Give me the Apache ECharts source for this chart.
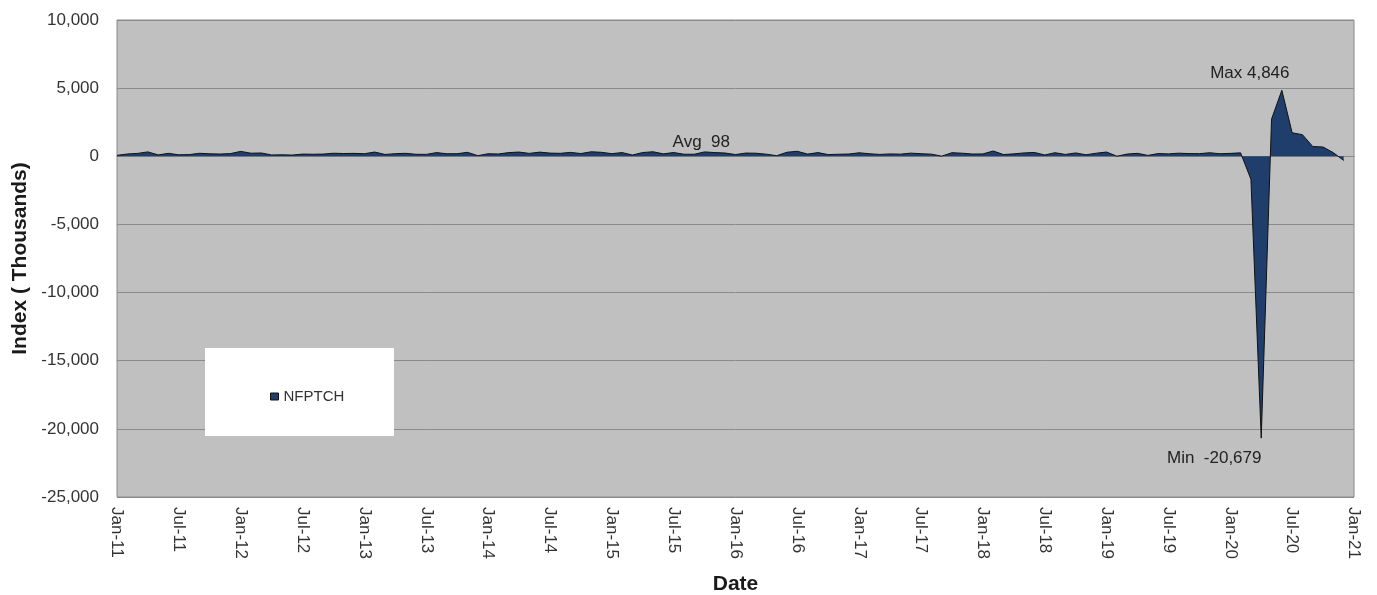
<!DOCTYPE html>
<html>
<head>
<meta charset="utf-8">
<script src="https://cdn.jsdelivr.net/npm/echarts@6/dist/echarts.min.js"></script>
<style>
html,body{margin:0;padding:0;background:#fff;}
#chart{width:1377px;height:595px;}
</style>
</head>
<body>
<div id="chart"></div>
<script>
// Monthly change in nonfarm payrolls (thousands), Jan-2011 .. Dec-2020
const v2011 = [70, 168, 212, 322, 102, 217, 106, 122, 221, 183, 164, 196];
const v2012 = [360, 226, 243, 96, 110, 88, 160, 150, 161, 225, 203, 214];
const v2013 = [190, 311, 135, 192, 218, 146, 140, 269, 185, 189, 291, 45];
const v2014 = [187, 168, 272, 310, 213, 306, 232, 218, 286, 200, 331, 292];
const v2015 = [192, 273, 91, 276, 332, 178, 277, 150, 149, 321, 272, 239];
const v2016 = [126, 237, 225, 153, 43, 297, 365, 159, 271, 124, 150, 165];
const v2017 = [258, 185, 136, 173, 157, 231, 189, 157, 10, 264, 224, 166];
const v2018 = [174, 387, 127, 177, 247, 281, 96, 262, 134, 247, 110, 227];
const v2019 = [312, 6, 162, 216, 64, 199, 175, 229, 197, 194, 260, 184];
const v2020 = [214, 251, -1683, -20679, 2725, 4846, 1726, 1583, 716, 680, 264, -306];
const v2021 = [null];

const monthNames = ['Jan','Feb','Mar','Apr','May','Jun','Jul','Aug','Sep','Oct','Nov','Dec'];
const years = [11,12,13,14,15,16,17,18,19,20,21];
const categories = [];
years.forEach(y => {
  const n = y === 21 ? 1 : 12;
  for (let m = 0; m < n; m++) categories.push(monthNames[m] + '-' + y);
});
const values = [].concat(v2011, v2012, v2013, v2014, v2015, v2016, v2017, v2018, v2019, v2020, v2021);

const seriesName = 'NFPTCH';
const yTicks = {min: -25000, max: 10000, interval: 5000};
const annotations = [
  {label: 'Max 4,846', cat: 'Jun-20', value: 4846, offset: [-32, -17]},
  {label: 'Min  -20,679', cat: 'Apr-20', value: -20679, offset: [-47, 20]},
  {label: 'Avg  98', cat: 'Sep-15', value: 98, offset: [7, -13]}
];

const FONT = 'Liberation Sans, Arial, sans-serif';
const chart = echarts.init(document.getElementById('chart'));
chart.setOption({
  animation: false,
  backgroundColor: '#ffffff',
  textStyle: {fontFamily: FONT},
  grid: {left: 117, right: 23, top: 20, bottom: 98, show: true, containLabel: false, outerBoundsMode: 'none',
    backgroundColor: '#c0c0c0', borderColor: '#8a8a8a', borderWidth: 1},
  graphic: [{
    type: 'rect', left: 205, top: 348, z: 5,
    shape: {width: 189, height: 88},
    style: {fill: '#ffffff'}
  }],
  legend: {
    left: 265, top: 384, z: 10,
    itemWidth: 8, itemHeight: 7, itemGap: 4,
    icon: 'rect',
    data: [{name: seriesName, itemStyle: {color: '#1f3e6c', borderColor: '#111', borderWidth: 1}}],
    textStyle: {fontSize: 15, color: '#333', fontFamily: FONT, padding: [0, 0, 0, 0]}
  },
  xAxis: {
    type: 'category',
    data: categories,
    boundaryGap: false,
    name: 'Date',
    nameLocation: 'middle',
    nameGap: 77,
    nameTextStyle: {fontSize: 21, fontWeight: 'bold', color: '#1a1a1a', fontFamily: FONT},
    axisLine: {lineStyle: {color: '#8a8a8a'}},
    axisTick: {show: false},
    axisLabel: {interval: 5, rotate: -90, margin: 10, fontSize: 17, color: '#333', fontFamily: FONT},
    splitLine: {show: false}
  },
  yAxis: {
    type: 'value',
    min: yTicks.min, max: yTicks.max, interval: yTicks.interval,
    name: 'Index ( Thousands)',
    nameLocation: 'middle',
    nameGap: 85,
    nameTextStyle: {fontSize: 21, fontWeight: 'bold', color: '#1a1a1a', fontFamily: FONT},
    axisLine: {show: false},
    axisTick: {show: false},
    axisLabel: {margin: 18, fontSize: 17, color: '#333', fontFamily: FONT,
      formatter: v => v.toLocaleString('en-US')},
    splitLine: {lineStyle: {color: '#8a8a8a', width: 1}}
  },
  series: [{
    name: seriesName,
    type: 'line',
    data: values,
    symbol: 'none',
    connectNulls: false,
    lineStyle: {color: '#111111', width: 1},
    itemStyle: {color: '#1f3e6c'},
    areaStyle: {color: '#1f3e6c', opacity: 1, origin: 0},
    markPoint: {
      symbol: 'circle', symbolSize: 0,
      label: {show: true, fontSize: 17, color: '#222', fontFamily: FONT},
      data: annotations.map(a => ({
        coord: [a.cat, a.value],
        label: {formatter: a.label, position: 'inside', offset: a.offset}
      }))
    }
  }]
});
</script>
</body>
</html>
